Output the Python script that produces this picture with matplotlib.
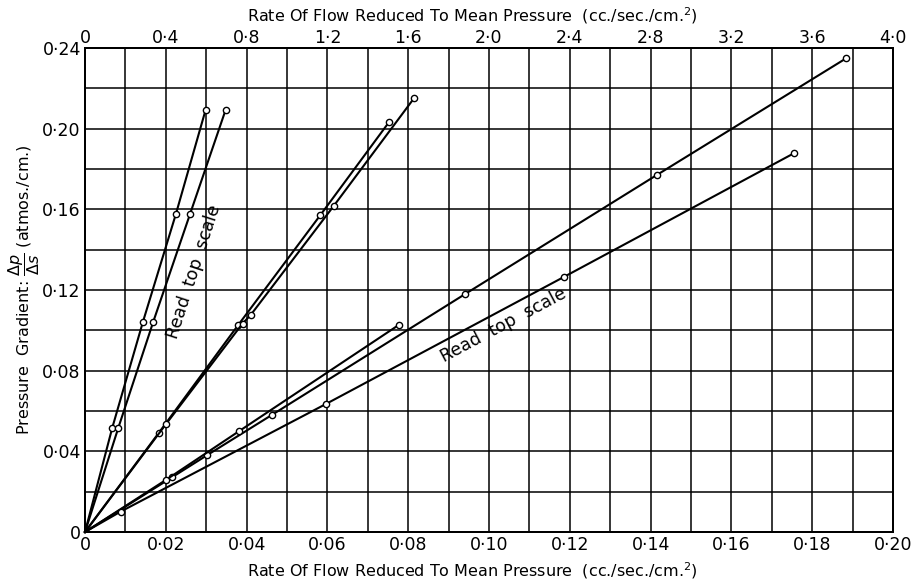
import matplotlib
matplotlib.use('Agg')
import matplotlib.pyplot as plt
import numpy as np

# Bottom-scale runs (cc./sec./cm.^2 vs atmos./cm.)
mid1_x = [0, 0.0182, 0.0379, 0.0582, 0.0753]
mid1_y = [0, 0.049, 0.1026, 0.157, 0.2034]
mid2_x = [0, 0.0200, 0.0390, 0.0410, 0.0616, 0.0814]
mid2_y = [0, 0.0534, 0.1034, 0.1076, 0.1618, 0.2150]
long_x = [0, 0.0215, 0.0303, 0.0462, 0.0940, 0.1415, 0.1884]
long_y = [0, 0.0271, 0.0382, 0.0580, 0.1179, 0.1770, 0.2349]
short_x = [0, 0.0200, 0.0382, 0.0776]
short_y = [0, 0.0258, 0.0501, 0.1026]

# Top-scale runs (read against 0 - 4.0 axis)
steep1_x = [0, 0.135, 0.287, 0.450, 0.597]
steep1_y = [0, 0.0517, 0.1043, 0.1577, 0.2093]
steep2_x = [0, 0.165, 0.338, 0.520, 0.696]
steep2_y = [0, 0.0517, 0.1043, 0.1577, 0.2093]
low_x = [0, 0.176, 1.191, 2.371, 3.511]
low_y = [0, 0.0101, 0.0634, 0.1265, 0.1879]

bottom_ticks = np.arange(0, 0.201, 0.02)
top_ticks = np.arange(0, 4.01, 0.4)
y_ticks = np.arange(0, 0.241, 0.04)

plt.rcParams['font.family'] = 'DejaVu Sans'
FS = 12.5
LFS = 11.5


def fmt(v, nd):
    if abs(v) < 1e-9:
        return '0'
    return f'{v:.{nd}f}'.replace('.', '\u00b7')


fig = plt.figure(figsize=(9.19, 5.88), dpi=100)
ax = fig.add_axes([0.0925, 0.0952, 0.8792, 0.8231])
ax_top = ax.twiny()

ax.set_xlim(0, 0.20)
ax.set_ylim(0, 0.24)
ax_top.set_xlim(0, 4.0)

# grid: 0.01 across, 0.02 up
ax.set_xticks(bottom_ticks)
ax.set_xticks(np.arange(0, 0.201, 0.01), minor=True)
ax.set_yticks(y_ticks)
ax.set_yticks(np.arange(0, 0.241, 0.02), minor=True)
ax.grid(which='both', color='black', linewidth=1.1)
ax.set_axisbelow(True)
ax.tick_params(which='both', length=0, labelsize=FS, pad=3)
ax.set_xticklabels([fmt(v, 2) for v in bottom_ticks])
ax.set_yticklabels([fmt(v, 2) for v in y_ticks])

ax_top.set_xticks(top_ticks)
ax_top.set_xticklabels([fmt(v, 1) for v in top_ticks])
ax_top.tick_params(length=0, labelsize=FS, pad=1)

for a in (ax, ax_top):
    for s in a.spines.values():
        s.set_linewidth(1.4)

line_kw = dict(color='black', linewidth=1.5, marker='o', markersize=4.5,
               markerfacecolor='white', markeredgewidth=1.0, clip_on=False)

for xs, ys in [(mid1_x, mid1_y), (mid2_x, mid2_y), (long_x, long_y), (short_x, short_y)]:
    ax.plot(xs, ys, markevery=list(range(1, len(xs))), **line_kw)
for xs, ys in [(steep1_x, steep1_y), (steep2_x, steep2_y), (low_x, low_y)]:
    ax_top.plot(xs, ys, markevery=list(range(1, len(xs))), **line_kw)

ax_top.text(0.54, 0.129, 'Read  top  scale', rotation=72, fontsize=FS,
            ha='center', va='center')
ax_top.text(2.07, 0.1026, 'Read  top  scale', rotation=28, fontsize=FS,
            ha='center', va='center')

xlabel = 'Rate Of Flow Reduced To Mean Pressure  (cc./sec./cm.$^2$)'
ax.set_xlabel(xlabel, fontsize=LFS)
ax_top.set_xlabel(xlabel, fontsize=LFS)
ax.xaxis.set_label_coords(0.479, -0.058)
ax_top.xaxis.set_label_coords(0.479, 1.055)
ax.set_ylabel(r'Pressure  Gradient: $\dfrac{\Delta p}{\Delta s}$ (atmos./cm.)',
              fontsize=LFS, labelpad=0)

fig.savefig('out.png', dpi=100, facecolor='white')
